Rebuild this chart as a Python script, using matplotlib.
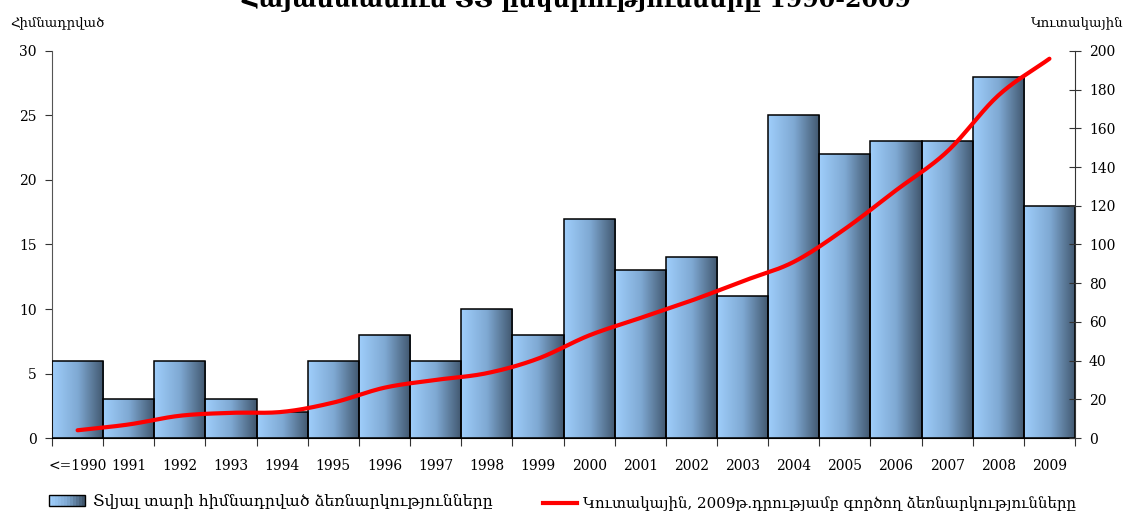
import numpy as np
import matplotlib.pyplot as plt
from matplotlib.colors import LinearSegmentedColormap
from matplotlib.legend_handler import HandlerBase
from matplotlib.patches import Rectangle
from matplotlib.lines import Line2D

plt.rcParams['font.family'] = ['DejaVu Serif', 'DejaVu Sans']

years = ['<=1990', '1991', '1992', '1993', '1994', '1995', '1996', '1997', '1998', '1999',
         '2000', '2001', '2002', '2003', '2004', '2005', '2006', '2007', '2008', '2009']
founded = [6, 3, 6, 3, 2, 6, 8, 6, 10, 8, 17, 13, 14, 11, 25, 22, 23, 23, 28, 18]
cumulative = [4, 7, 11.5, 13, 13.5, 18.3, 26, 30, 33.5, 41,
              53, 62, 71, 81, 91, 108, 128, 148, 177, 196]

title = 'Հայաստանում ՏՏ ընկերությունները 1990-2009'
left_label = 'Հիմնադրված'
right_label = 'Կուտակային'
bar_legend = 'Տվյալ տարի հիմնադրված ձեռնարկությունները'
line_legend = 'Կուտակային, 2009թ.դրությամբ գործող ձեռնարկությունները'

grad = LinearSegmentedColormap.from_list('bar', ['#9fcefb', '#7fa9d3', '#40566d'])


def smooth(x, y, n=20):
    # catmull-rom style smoothing like excel's "smoothed line"
    x = np.asarray(x, float)
    y = np.asarray(y, float)
    px = np.concatenate([[2 * x[0] - x[1]], x, [2 * x[-1] - x[-2]]])
    py = np.concatenate([[2 * y[0] - y[1]], y, [2 * y[-1] - y[-2]]])
    xs, ys = [], []
    for i in range(1, len(px) - 2):
        t = np.linspace(0, 1, n, endpoint=False)
        for p, out in ((px, xs), (py, ys)):
            p0, p1, p2, p3 = p[i - 1], p[i], p[i + 1], p[i + 2]
            out.extend(0.5 * ((2 * p1) + (-p0 + p2) * t + (2 * p0 - 5 * p1 + 4 * p2 - p3) * t ** 2
                              + (-p0 + 3 * p1 - 3 * p2 + p3) * t ** 3))
    xs.append(x[-1])
    ys.append(y[-1])
    return np.array(xs), np.array(ys)


class GradientHandler(HandlerBase):
    def create_artists(self, legend, orig, xd, yd, w, h, fontsize, trans):
        arts = []
        n = 12
        for k in range(n):
            r = Rectangle((xd + w * k / n, yd), w / n, h, facecolor=grad(k / (n - 1)),
                          edgecolor='none', transform=trans)
            arts.append(r)
        arts.append(Rectangle((xd, yd), w, h, facecolor='none', edgecolor='black', lw=1, transform=trans))
        return arts


fig = plt.figure(figsize=(11.31, 5.15), dpi=100)
ax = fig.add_axes([0.046, 0.1495, 0.9045, 0.7515])
ax2 = ax.twinx()

x = np.arange(len(years))
bars = ax.bar(x, founded, width=1.0, facecolor='none', edgecolor='black', linewidth=1.1, zorder=3)
gimg = np.linspace(0, 1, 256).reshape(1, -1)
for b in bars:
    bx, by = b.get_x(), b.get_y()
    im = ax.imshow(gimg, cmap=grad, aspect='auto', zorder=2,
                   extent=[bx, bx + b.get_width(), by, by + b.get_height()])
    im.set_clip_path(b)

ax.set_xlim(-0.5, len(years) - 0.5)
ax.set_ylim(0, 30)
ax.set_yticks(np.arange(0, 31, 5))
ax.set_xticks(np.arange(-0.5, len(years), 1.0))
ax.set_xticklabels([])
ax.set_xticks(x, minor=True)
ax.set_xticklabels(years, minor=True)
ax.tick_params(axis='x', which='minor', length=0, pad=15, labelsize=10)
ax.tick_params(axis='x', which='major', length=6, direction='out', color='#333333')
ax.tick_params(axis='y', length=5, direction='out', labelsize=10, color='#333333', pad=6)
ax.spines['top'].set_visible(False)
ax.spines['right'].set_visible(False)
ax.spines['left'].set_color('#555555')

sx, sy = smooth(x, cumulative)
ax2.plot(sx, sy, color='#ff0000', lw=3, solid_capstyle='round', zorder=5)
ax2.set_ylim(0, 200)
ax2.set_yticks(np.arange(0, 201, 20))
ax2.tick_params(axis='y', length=8, direction='inout', labelsize=10, color='#333333', pad=6)
for s in ['top', 'left', 'bottom']:
    ax2.spines[s].set_visible(False)
ax2.spines['right'].set_color('#333333')

fig.text(0.51, 0.986, title, ha='center', va='baseline', fontsize=17, fontweight='bold')
fig.text(0.009, 0.955, left_label, ha='left', va='center', fontsize=9.5)
fig.text(0.993, 0.955, right_label, ha='right', va='center', fontsize=9.5)

h_bar = Rectangle((0, 0), 1, 1)
h_line = Line2D([0], [0], color='#ff0000', lw=3)
leg1 = fig.legend([h_bar], [bar_legend], handler_map={h_bar: GradientHandler()},
                  loc='lower left', bbox_to_anchor=(0.031, -0.018), frameon=False,
                  fontsize=11.3, handlelength=2.3, handletextpad=0.5)
fig.legend([h_line], [line_legend], loc='lower left', bbox_to_anchor=(0.468, -0.018),
           frameon=False, fontsize=10.8, handlelength=2.3, handletextpad=0.4)

fig.savefig('out.png', dpi=100)
